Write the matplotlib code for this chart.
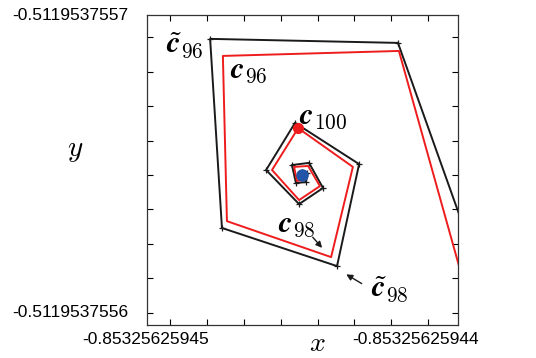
import numpy as np
import matplotlib
matplotlib.use("Agg")
import matplotlib.pyplot as plt

plt.rcParams['mathtext.fontset'] = 'cm'

# iterates, in units of the axis span (x: 1e-12, y: 1e-11) from the lower-left corner
ct_x = [11.64, 8.07, 2.03, 2.41, 6.11, 6.82, 4.76, 3.83, 4.89, 5.66, 5.21, 4.66, 4.79, 5.11, 5.16, 4.98, 4.92, 5.00]
ct_y = [-0.94, 9.10, 9.23, 3.13, 1.90, 5.19, 6.52, 5.00, 3.90, 4.42, 5.23, 5.16, 4.58, 4.61, 4.90, 4.95, 4.84, 4.76]
c_x = [10.87, 8.10, 2.44, 2.57, 5.92, 6.62, 4.86, 4.02, 4.89, 5.56, 5.18, 4.73, 4.82, 5.08, 5.11, 4.95, 4.92, 5.00]
c_y = [-1.10, 8.84, 8.68, 3.35, 2.19, 5.10, 6.35, 5.00, 4.03, 4.48, 5.13, 5.10, 4.65, 4.68, 4.87, 4.92, 4.82, 4.77]
c100 = (4.86, 6.35)
fixed_pt = (4.99, 4.84)

x_labels = ['-0.85325625945', '-0.85325625944']
y_labels = ['-0.5119537556', '-0.5119537557']

fig = plt.figure(figsize=(5.36, 3.58), dpi=100)
ax = fig.add_axes([147/536, 33/358, 311/536, 310/358])

ax.plot(ct_x, ct_y, color='#1a1a1a', lw=1.4, marker='+', ms=4, mew=0.9, zorder=2)
ax.plot(c_x, c_y, color='#ee1c1c', lw=1.4, zorder=3)
ax.plot(*c100, 'o', color='#ee1c1c', ms=7, zorder=4)
ax.plot(*fixed_pt, 'o', color='#2255a8', ms=8, zorder=5)

ax.set_xlim(0, 10)
ax.set_ylim(0, 10)

fs = 22
ax.text(1.20, 9.03, r'$\tilde{\boldsymbol{c}}_{96}$', fontsize=fs, ha='center', va='center')
ax.text(3.28, 8.20, r'$\boldsymbol{c}_{96}$', fontsize=fs, ha='center', va='center')
ax.text(5.66, 6.72, r'$\boldsymbol{c}_{100}$', fontsize=fs, ha='center', va='center')
ax.text(4.82, 3.23, r'$\boldsymbol{c}_{98}$', fontsize=fs, ha='center', va='center')
ax.text(7.81, 1.15, r'$\tilde{\boldsymbol{c}}_{98}$', fontsize=fs, ha='center', va='center')

arrow = dict(arrowstyle='-|>', color='#1a1a1a', lw=1.0, mutation_scale=9)
ax.annotate('', xy=(5.69, 2.42), xytext=(5.27, 2.90), arrowprops=arrow)
ax.annotate('', xy=(6.33, 1.68), xytext=(6.98, 1.29), arrowprops=arrow)

# only small inward ticks, labels at the ends
ax.set_xticks([])
ax.set_yticks([])
ax.set_xticks(np.arange(0.74, 9.5, 1.186), minor=True)
ax.set_yticks(np.arange(0.39, 9.5, 1.112), minor=True)
ax.tick_params(which='minor', direction='in', length=4, width=0.8,
               top=True, right=True, labelbottom=False, labelleft=False)
for s in ax.spines.values():
    s.set_linewidth(0.9)
    s.set_color('#333333')

tfs = 12.5
ax.text(-0.006, -0.048, x_labels[0], transform=ax.transAxes, fontsize=tfs,
        family='Liberation Sans', ha='center', va='center')
ax.text(0.865, -0.048, x_labels[1], transform=ax.transAxes, fontsize=tfs,
        family='Liberation Sans', ha='center', va='center')
ax.text(-0.061, 1.0, y_labels[1], transform=ax.transAxes, fontsize=tfs,
        family='Liberation Sans', ha='right', va='center')
ax.text(-0.061, 0.039, y_labels[0], transform=ax.transAxes, fontsize=tfs,
        family='Liberation Sans', ha='right', va='center')

ax.text(0.547, -0.058, r'$x$', transform=ax.transAxes, fontsize=20, ha='center', va='center')
ax.text(-0.23, 0.565, r'$y$', transform=ax.transAxes, fontsize=21, ha='center', va='center')

fig.savefig('out.png', dpi=100)
